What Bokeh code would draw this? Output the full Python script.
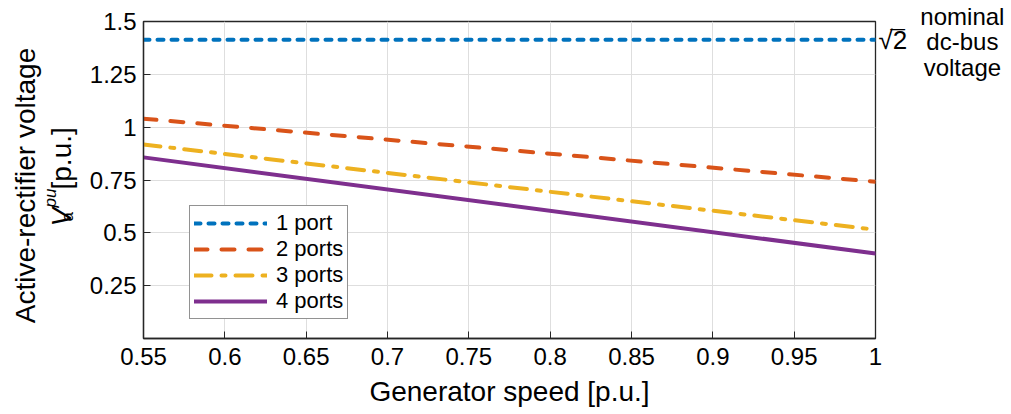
import numpy as np
from bokeh.plotting import figure
from bokeh.layouts import row
from bokeh.models import Label, Legend, LegendItem, FixedTicker
from bokeh.core.properties import value
from bokeh.embed import file_html
from bokeh.resources import INLINE

# Generator speed [p.u.] at the ends of each curve
speed = [0.55, 1.0]

# Active-rectifier voltage [p.u.] for each number of ports
v_1port = [np.sqrt(2), np.sqrt(2)]
v_2ports = [1.040, 0.742]
v_3ports = [0.918, 0.515]
v_4ports = [0.857, 0.402]

series_names = ["1 port", "2 ports", "3 ports", "4 ports"]

x_ticks = [0.55, 0.6, 0.65, 0.7, 0.75, 0.8, 0.85, 0.9, 0.95, 1.0]
x_tick_labels = ["0.55", "0.6", "0.65", "0.7", "0.75", "0.8", "0.85", "0.9", "0.95", "1"]
y_ticks = [0.25, 0.5, 0.75, 1.0, 1.25, 1.5]
y_tick_labels = ["0.25", "0.5", "0.75", "1", "1.25", "1.5"]

FONT = "Liberation Sans"
INK = "#262626"

H = 414
TITLE_W = 86                      # strip holding the rotated y title
MAIN_W = 1011 - TITLE_W
L, R, T, B = 56, 136, 21, 76      # borders of the main plot
X0, X1 = 0.55, 1.0
Y0, Y1 = 0.0, 1.5

# ---------------------------------------------------------------- main plot
p = figure(width=MAIN_W, height=H, x_range=(X0, X1), y_range=(Y0, Y1),
           output_backend="svg", toolbar_location=None,
           min_border_left=L, min_border_right=R,
           min_border_top=T, min_border_bottom=B,
           background_fill_color="white", border_fill_color="white")

p.outline_line_color = INK
p.outline_line_width = 1.3

for ax in (p.xaxis[0], p.yaxis[0]):
    ax.axis_line_color = INK
    ax.axis_line_width = 1.3
    ax.major_tick_line_color = INK
    ax.major_tick_in = 7
    ax.major_tick_out = 0
    ax.minor_tick_line_color = None
    ax.major_label_text_font = FONT
    ax.major_label_text_font_size = "24px"
    ax.major_label_text_color = "black"

p.xaxis[0].ticker = FixedTicker(ticks=x_ticks)
p.xaxis[0].major_label_overrides = dict(zip(x_ticks, x_tick_labels))
p.xaxis[0].major_label_standoff = 9
p.xaxis[0].axis_label = "Generator speed [p.u.]"
p.xaxis[0].axis_label_text_font = FONT
p.xaxis[0].axis_label_text_font_size = "28px"
p.xaxis[0].axis_label_text_font_style = "normal"
p.xaxis[0].axis_label_text_color = "black"
p.xaxis[0].axis_label_standoff = 8

p.yaxis[0].ticker = FixedTicker(ticks=y_ticks)
p.yaxis[0].major_label_overrides = dict(zip(y_ticks, y_tick_labels))
p.yaxis[0].major_label_standoff = 7

p.xgrid.ticker = FixedTicker(ticks=x_ticks)
p.ygrid.ticker = FixedTicker(ticks=y_ticks)
for g in (p.xgrid[0], p.ygrid[0]):
    g.grid_line_color = "#dedede"
    g.grid_line_width = 1

colors = ["#0072BD", "#D95319", "#EDB120", "#7E2F8E"]
dashes = ["6 8", "13 14", "17 10 4 10", "solid"]
values = [v_1port, v_2ports, v_3ports, v_4ports]

items = []
for name, ys, c, d in zip(series_names, values, colors, dashes):
    r = p.line(speed, ys, line_color=c, line_width=4, line_dash=d, line_cap="round")
    items.append(LegendItem(label=name, renderers=[r]))

legend = Legend(items=items, location=(46, 19),
                label_text_font=FONT, label_text_font_size="22px",
                label_text_color="black",
                glyph_width=73, glyph_height=20, label_height=20,
                label_standoff=9, spacing=0, padding=4, margin=0,
                border_line_color=INK, border_line_width=1.2,
                background_fill_color="white", background_fill_alpha=1.0)
p.add_layout(legend, "center")

# annotation of the 1-port level, to the right of the frame
FRAME_W = MAIN_W - L - R


def dx(px):
    """page pixel column -> x data value of the main plot"""
    return X0 + (px - TITLE_W - L) / FRAME_W * (X1 - X0)


def dy(py):
    """page pixel row -> y data value of the main plot"""
    return Y0 + (H - B - py) / (H - T - B) * (Y1 - Y0)


p.add_layout(Label(x=dx(878), y=v_1port[0], text="\u221a2",
                   text_font=FONT, text_font_size="26px", text_color="black",
                   text_align="left", text_baseline="middle"), "right")
# vinculum of the square root: a macron over the "2"
p.add_layout(Label(x=dx(890), y=v_1port[0], text="\u00af",
                   text_font=FONT, text_font_size="26px", text_color="black",
                   text_align="left", text_baseline="middle"), "right")
p.add_layout(Label(x=dx(962), y=dy(2), text="nominal\ndc-bus\nvoltage",
                   text_font=FONT, text_font_size="24px", text_color="black",
                   text_align="center", text_baseline="top",
                   text_line_height=0.96), "right")

# ------------------------------------------------- rotated y-axis title strip
title = figure(width=TITLE_W, height=H, x_range=(0, TITLE_W), y_range=(B, H - T),
               x_axis_type=None, y_axis_type=None,
               output_backend="svg", toolbar_location=None,
               min_border=0, outline_line_color=None,
               background_fill_color="white", border_fill_color="white")


def put(x, y, s, size, align="left", style="normal"):
    title.text(x=[x], y=[H - y], text=[s], text_font=value(FONT),
               text_font_size=value(f"{size}px"), text_align=align,
               text_baseline="alphabetic", angle=np.pi / 2,
               text_font_style=style, text_color="black")


put(25, 185, "Active-rectifier voltage", 28, align="center")
put(61, 226, "V", 28, style="italic")
put(50, 207, "pu", 17, style="italic")
put(67, 221, "a", 17)
put(61, 189, "[p.u.]", 28)

layout = row(title, p, spacing=0)
open("out.html", "w").write(file_html(layout, INLINE))
